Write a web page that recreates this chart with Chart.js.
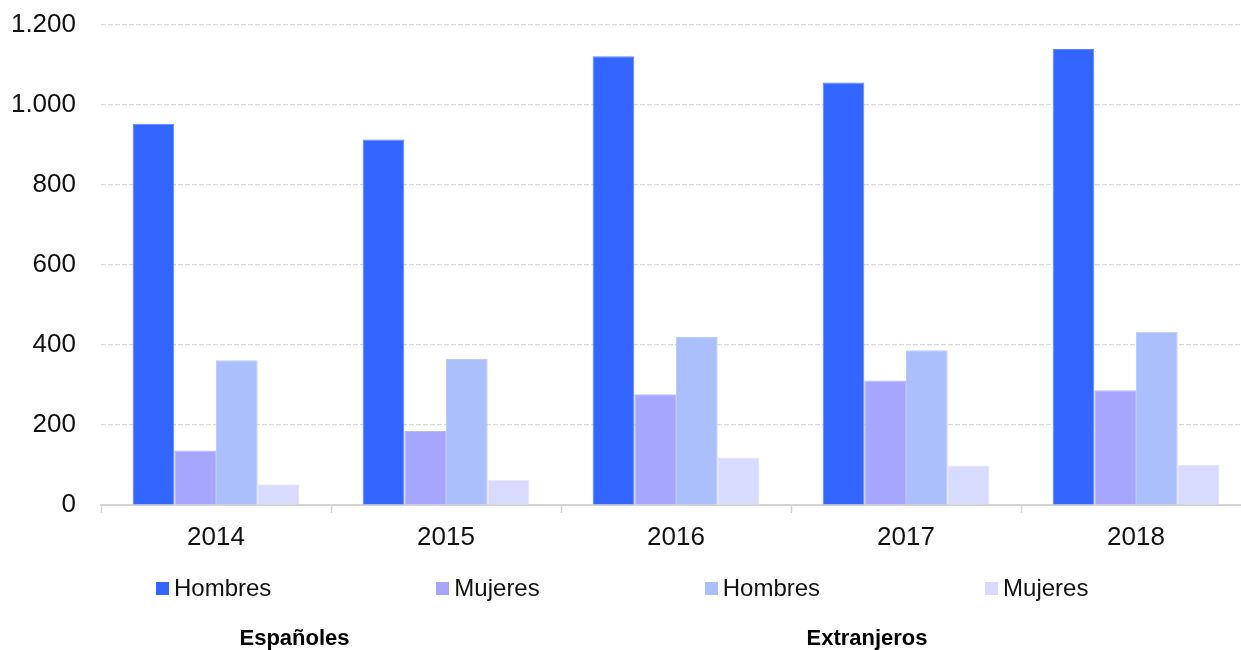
<!DOCTYPE html>
<html lang="es">
<head>
<meta charset="utf-8">
<title>Españoles y Extranjeros por sexo, 2014-2018</title>
<script src="https://cdn.jsdelivr.net/npm/chart.js@4/dist/chart.umd.min.js"></script>
<style>
  html, body { margin: 0; padding: 0; background: #ffffff; overflow: hidden; }
  #wrap { position: relative; width: 1241px; height: 650px; overflow: hidden; font-family: "Liberation Sans", Arial, Helvetica, sans-serif; }
  #chart { position: absolute; left: 0; top: 0; }
  #legend { position: absolute; left: 156px; top: 576px; display: flex; gap: 165px; align-items: center; }
  .item { display: flex; align-items: center; font-size: 24px; line-height: 24px; color: #111; white-space: nowrap; }
  .sw { width: 13px; height: 13px; margin-right: 5px; flex: none; }
  .group { position: absolute; top: 627px; font-size: 22px; line-height: 22px; font-weight: bold; color: #000; white-space: nowrap; transform: translateX(-50%); }
</style>
</head>
<body>
<div id="wrap">
  <canvas id="chart" width="1251" height="650"></canvas>
  <div id="legend"></div>
  <div class="group" style="left:294.5px">Españoles</div>
  <div class="group" style="left:867px">Extranjeros</div>
</div>
<script>
// ---- Data ----
const years = ["2014", "2015", "2016", "2017", "2018"];
const seriesNames = ["Hombres", "Mujeres", "Hombres", "Mujeres"];
const groupNames = ["Españoles", "Españoles", "Extranjeros", "Extranjeros"];
const espanolesHombres   = [953, 914, 1122, 1056, 1140];
const espanolesMujeres   = [136, 185, 277, 311, 287];
const extranjerosHombres = [362, 365, 420, 387, 433];
const extranjerosMujeres = [52, 63, 119, 99, 100];
const yTicks = [0, 200, 400, 600, 800, 1000, 1200];

const seriesValues = [espanolesHombres, espanolesMujeres, extranjerosHombres, extranjerosMujeres];
const seriesColors = ["#3366ff", "#a6a6fe", "#abbffd", "#d9daff"];
const seriesBorders = ["#5c85ff", "#b8b8fe", "#bccbfd", "#e4e4ff"];

function fmt(v) {
  return String(v).replace(/\B(?=(\d{3})+(?!\d))/g, ".");
}

const datasets = seriesValues.map((vals, i) => ({
  label: seriesNames[i],
  group: groupNames[i],
  data: vals,
  backgroundColor: seriesColors[i],
  borderColor: seriesBorders[i],
  borderWidth: 1,
  categoryPercentage: 0.725,
  barPercentage: 1.0
}));

// Legend built from the series arrays
const legendEl = document.getElementById("legend");
seriesNames.forEach((name, i) => {
  const it = document.createElement("div");
  it.className = "item";
  const sw = document.createElement("span");
  sw.className = "sw";
  sw.style.background = seriesColors[i];
  const tx = document.createElement("span");
  tx.textContent = name;
  it.appendChild(sw);
  it.appendChild(tx);
  legendEl.appendChild(it);
});

const FONT = "'Liberation Sans', Arial, Helvetica, sans-serif";

new Chart(document.getElementById("chart"), {
  type: "bar",
  data: { labels: years, datasets: datasets },
  options: {
    responsive: false,
    animation: false,
    devicePixelRatio: 1,
    layout: { padding: { top: 25, bottom: 85, left: 0, right: 0 } },
    plugins: {
      legend: { display: false },
      tooltip: { enabled: false },
      title: { display: false }
    },
    scales: {
      x: {
        offset: true,
        grid: {
          offset: true,
          drawOnChartArea: false,
          drawTicks: true,
          tickLength: 8,
          tickColor: "#d4d4d4",
          tickWidth: 1.5
        },
        border: { display: true, color: "#d4d4d4", width: 2 },
        ticks: {
          color: "#111111",
          padding: 9,
          font: { family: FONT, size: 26 }
        },
        afterFit: (scale) => { scale.height = 60; scale.paddingLeft = 0; scale.paddingRight = 0; }
      },
      y: {
        min: yTicks[0],
        max: yTicks[yTicks.length - 1],
        afterBuildTicks: (scale) => { scale.ticks = yTicks.map(v => ({ value: v })); },
        grid: {
          color: "#d9d9d9",
          lineWidth: 1.2,
          drawTicks: false,
          drawOnChartArea: true
        },
        border: { display: false, dash: [5, 2] },
        ticks: {
          color: "#111111",
          padding: 25,
          font: { family: FONT, size: 26 },
          callback: (v) => fmt(v)
        },
        afterFit: (scale) => { scale.width = 101; scale.paddingTop = 0; scale.paddingBottom = 0; }
      }
    }
  }
});
</script>
</body>
</html>
